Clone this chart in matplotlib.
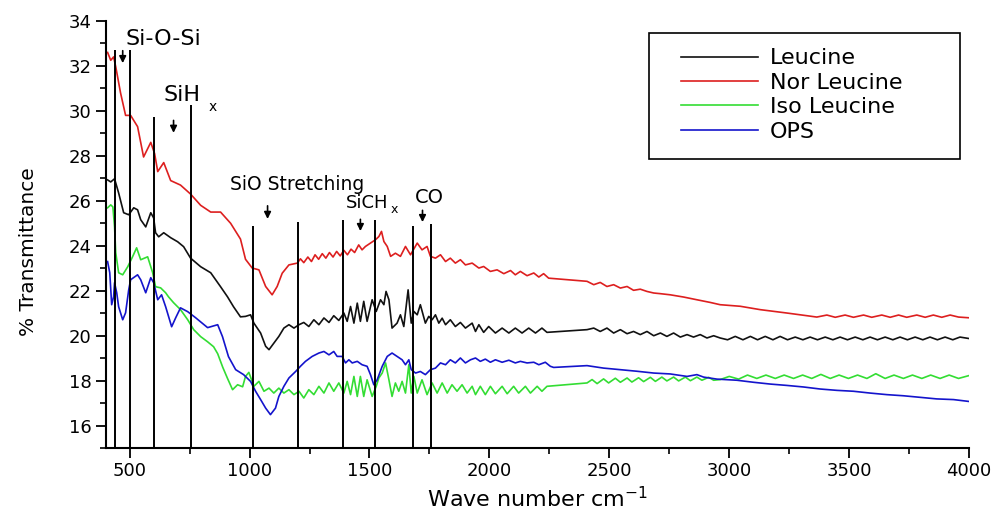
import matplotlib.pyplot as plt
from matplotlib.patches import Rectangle
from matplotlib.ticker import MultipleLocator
import numpy as np

# (wave number cm-1, % transmittance)
leucine = [
    (408, 26.93), (421, 26.84), (437, 26.98), (454, 26.35), (475, 25.47), (496, 25.38),
    (517, 25.69), (533, 25.6), (546, 25.16), (567, 24.84), (588, 25.47), (600, 25.24),
    (608, 24.58), (621, 24.4), (642, 24.58), (671, 24.36), (700, 24.18), (725, 23.96),
    (754, 23.45), (796, 23.07), (838, 22.8), (879, 22.18), (908, 21.73), (933, 21.29),
    (962, 20.84), (983, 20.86), (1004, 20.93), (1018, 20.56), (1046, 20.12), (1067, 19.53),
    (1081, 19.38), (1101, 19.67), (1122, 19.97), (1143, 20.34), (1164, 20.49), (1185, 20.34),
    (1206, 20.49), (1226, 20.59), (1247, 20.41), (1268, 20.71), (1289, 20.49), (1310, 20.79),
    (1331, 20.59), (1351, 20.89), (1372, 20.68), (1393, 21.01), (1407, 20.64), (1421, 21.3),
    (1435, 20.56), (1449, 21.45), (1462, 20.64), (1476, 21.53), (1490, 20.64), (1511, 21.6),
    (1528, 21.08), (1546, 21.6), (1560, 21.38), (1569, 21.97), (1581, 21.6), (1594, 20.34),
    (1615, 20.56), (1629, 20.93), (1643, 20.41), (1661, 22.04), (1674, 20.56), (1685, 21.08),
    (1699, 20.93), (1712, 21.38), (1733, 20.56), (1747, 20.86), (1761, 20.71), (1775, 20.93),
    (1789, 20.56), (1803, 20.78), (1817, 20.49), (1837, 20.71), (1858, 20.41), (1879, 20.59),
    (1900, 20.34), (1928, 20.56), (1942, 20.19), (1956, 20.49), (1976, 20.15), (1997, 20.41),
    (2025, 20.12), (2053, 20.34), (2081, 20.12), (2108, 20.34), (2136, 20.12), (2164, 20.34),
    (2192, 20.12), (2219, 20.34), (2240, 20.15), (2407, 20.27), (2435, 20.34), (2462, 20.19),
    (2490, 20.34), (2518, 20.12), (2546, 20.27), (2574, 20.09), (2601, 20.19), (2629, 20.05),
    (2657, 20.19), (2685, 20.0), (2713, 20.12), (2740, 19.97), (2768, 20.12), (2796, 19.94),
    (2824, 20.05), (2851, 19.94), (2879, 20.05), (2907, 19.9), (2935, 20.0), (2962, 19.9),
    (2993, 19.82), (3025, 19.97), (3057, 19.82), (3088, 19.97), (3118, 19.82), (3150, 19.97),
    (3182, 19.82), (3212, 19.97), (3243, 19.82), (3275, 19.94), (3307, 19.82), (3337, 19.94),
    (3368, 19.82), (3400, 19.94), (3432, 19.82), (3462, 19.94), (3493, 19.82), (3525, 19.94),
    (3557, 19.82), (3587, 19.94), (3618, 19.82), (3650, 19.94), (3682, 19.82), (3712, 19.94),
    (3743, 19.82), (3775, 19.94), (3807, 19.82), (3837, 19.94), (3868, 19.82), (3900, 19.94),
    (3932, 19.82), (3962, 19.94), (3997, 19.88),
]

nor_leucine = [
    (408, 32.6), (421, 32.25), (433, 32.4), (442, 31.96), (462, 30.8), (483, 29.8),
    (504, 29.8), (533, 29.3), (558, 27.95), (588, 28.6), (604, 28.1), (617, 27.3),
    (642, 27.7), (671, 26.9), (712, 26.7), (754, 26.3), (796, 25.8), (838, 25.5),
    (879, 25.5), (921, 25.0), (962, 24.3), (983, 23.4), (1011, 23.01), (1039, 22.93),
    (1067, 22.19), (1094, 21.82), (1115, 22.19), (1136, 22.78), (1164, 23.15), (1199, 23.23),
    (1212, 23.42), (1226, 23.25), (1243, 23.5), (1258, 23.3), (1273, 23.6), (1288, 23.4),
    (1303, 23.65), (1318, 23.45), (1333, 23.7), (1348, 23.5), (1363, 23.75), (1378, 23.55),
    (1393, 23.8), (1408, 23.6), (1423, 23.85), (1438, 23.7), (1455, 24.04), (1469, 23.82),
    (1483, 23.97), (1504, 24.12), (1525, 24.27), (1539, 24.41), (1550, 24.64), (1560, 24.19),
    (1574, 23.97), (1588, 23.53), (1608, 23.67), (1629, 23.53), (1650, 23.97), (1671, 23.6),
    (1699, 24.12), (1719, 23.82), (1740, 23.97), (1754, 23.53), (1775, 23.45), (1796, 23.6),
    (1817, 23.3), (1837, 23.45), (1858, 23.23), (1879, 23.38), (1900, 23.15), (1928, 23.23),
    (1956, 23.01), (1976, 23.08), (2004, 22.86), (2032, 22.93), (2060, 22.76), (2088, 22.9),
    (2108, 22.71), (2129, 22.86), (2157, 22.67), (2185, 22.79), (2206, 22.61), (2226, 22.76),
    (2247, 22.56), (2407, 22.42), (2435, 22.27), (2462, 22.37), (2490, 22.19), (2518, 22.27),
    (2546, 22.12), (2574, 22.19), (2601, 22.02), (2629, 22.07), (2657, 21.97), (2685, 21.9),
    (2713, 21.87), (2754, 21.82), (2810, 21.72), (2865, 21.6), (2921, 21.48), (2962, 21.38),
    (3046, 21.31), (3129, 21.16), (3240, 21.01), (3324, 20.89), (3365, 20.83), (3407, 20.92),
    (3442, 20.82), (3483, 20.92), (3518, 20.82), (3560, 20.92), (3594, 20.82), (3636, 20.92),
    (3671, 20.82), (3706, 20.92), (3740, 20.82), (3782, 20.92), (3817, 20.82), (3851, 20.92),
    (3886, 20.82), (3921, 20.92), (3956, 20.83), (3997, 20.8),
]

iso_leucine = [
    (408, 25.69), (421, 25.82), (430, 25.73), (437, 24.84), (442, 23.69), (454, 22.8),
    (471, 22.71), (492, 23.07), (512, 23.51), (529, 23.91), (546, 23.38), (575, 23.51),
    (596, 22.8), (608, 22.18), (629, 22.13), (650, 21.91), (662, 21.73), (683, 21.47),
    (712, 21.16), (742, 20.71), (767, 20.27), (796, 19.96), (825, 19.73), (850, 19.51),
    (867, 19.2), (888, 18.6), (908, 18.1), (929, 17.6), (950, 17.82), (971, 17.73),
    (983, 18.19), (997, 18.37), (1018, 17.75), (1039, 17.97), (1060, 17.53), (1081, 17.67),
    (1101, 17.45), (1122, 17.67), (1143, 17.45), (1164, 17.6), (1185, 17.38), (1206, 17.53),
    (1226, 17.23), (1247, 17.6), (1268, 17.38), (1289, 17.75), (1310, 17.45), (1331, 17.9),
    (1351, 17.53), (1372, 17.9), (1393, 17.45), (1407, 17.97), (1421, 17.38), (1435, 18.19),
    (1449, 17.3), (1462, 18.19), (1476, 17.3), (1490, 18.04), (1511, 17.3), (1528, 17.75),
    (1539, 18.12), (1553, 18.34), (1567, 18.79), (1581, 18.04), (1594, 17.3), (1608, 17.9),
    (1622, 17.53), (1636, 17.97), (1650, 17.45), (1664, 18.71), (1674, 17.45), (1685, 18.19),
    (1699, 17.45), (1719, 18.04), (1740, 17.38), (1761, 17.9), (1782, 17.45), (1803, 17.9),
    (1824, 17.45), (1844, 17.82), (1865, 17.53), (1886, 17.82), (1907, 17.45), (1928, 17.75),
    (1942, 17.38), (1962, 17.75), (1983, 17.38), (2004, 17.75), (2025, 17.42), (2053, 17.75),
    (2074, 17.42), (2101, 17.75), (2122, 17.45), (2150, 17.75), (2171, 17.45), (2199, 17.75),
    (2219, 17.53), (2240, 17.75), (2407, 17.9), (2428, 18.05), (2449, 17.87), (2476, 18.08),
    (2497, 17.9), (2525, 18.11), (2546, 17.93), (2574, 18.12), (2594, 17.94), (2622, 18.13),
    (2643, 17.96), (2671, 18.15), (2692, 17.97), (2719, 18.16), (2740, 17.99), (2768, 18.16),
    (2789, 17.99), (2817, 18.16), (2838, 18.0), (2865, 18.16), (2886, 18.02), (2914, 18.15),
    (2935, 18.02), (2962, 18.05), (3000, 18.19), (3039, 18.07), (3076, 18.25), (3115, 18.1),
    (3153, 18.25), (3192, 18.1), (3229, 18.25), (3268, 18.1), (3306, 18.25), (3344, 18.1),
    (3382, 18.28), (3421, 18.1), (3458, 18.25), (3497, 18.1), (3535, 18.25), (3574, 18.1),
    (3611, 18.31), (3650, 18.1), (3687, 18.25), (3726, 18.1), (3764, 18.25), (3803, 18.1),
    (3840, 18.25), (3879, 18.1), (3917, 18.25), (3956, 18.1), (3997, 18.22),
]

ops = [
    (408, 23.3), (417, 22.8), (425, 21.38), (433, 21.73), (437, 22.36), (446, 21.91),
    (454, 21.29), (471, 20.71), (483, 21.02), (496, 22.04), (504, 22.49), (533, 22.71),
    (546, 22.49), (567, 21.91), (588, 22.58), (600, 22.36), (617, 21.6), (633, 21.82),
    (650, 21.29), (675, 20.4), (692, 20.8), (712, 21.24), (742, 21.07), (775, 20.8),
    (825, 20.36), (867, 20.49), (887, 19.96), (912, 19.07), (942, 18.49), (975, 18.27),
    (1004, 17.97), (1025, 17.53), (1046, 17.16), (1067, 16.78), (1087, 16.49), (1108, 16.78),
    (1122, 17.3), (1143, 17.75), (1164, 18.12), (1192, 18.41), (1212, 18.64), (1233, 18.86),
    (1261, 19.08), (1289, 19.23), (1310, 19.3), (1331, 19.15), (1351, 19.3), (1365, 19.08),
    (1386, 19.08), (1400, 18.79), (1414, 18.93), (1428, 18.79), (1449, 18.86), (1469, 18.71),
    (1490, 18.64), (1504, 18.27), (1518, 17.82), (1532, 18.04), (1553, 18.64), (1574, 19.08),
    (1594, 19.23), (1615, 19.08), (1636, 18.93), (1650, 18.71), (1664, 18.93), (1674, 18.49),
    (1692, 18.34), (1712, 18.41), (1733, 18.27), (1754, 18.49), (1775, 18.56), (1796, 18.79),
    (1817, 18.71), (1837, 18.93), (1858, 18.79), (1879, 19.01), (1900, 18.79), (1921, 18.93),
    (1942, 19.01), (1962, 18.86), (1983, 18.96), (2004, 18.82), (2025, 18.93), (2053, 18.82),
    (2081, 18.91), (2108, 18.79), (2129, 18.86), (2157, 18.79), (2185, 18.82), (2206, 18.71),
    (2233, 18.82), (2254, 18.64), (2268, 18.59), (2407, 18.67), (2476, 18.56), (2546, 18.49),
    (2615, 18.42), (2685, 18.34), (2754, 18.3), (2824, 18.19), (2865, 18.27), (2893, 18.16),
    (2949, 18.07), (3032, 18.02), (3101, 17.93), (3171, 17.85), (3240, 17.79), (3310, 17.72),
    (3379, 17.63), (3449, 17.57), (3518, 17.53), (3587, 17.45), (3657, 17.38), (3726, 17.33),
    (3796, 17.26), (3865, 17.19), (3935, 17.16), (3997, 17.08),
]

series = [leucine, nor_leucine, iso_leucine, ops]
names = ["Leucine", "Nor Leucine", "Iso Leucine", "OPS"]
colors = ["#111111", "#dd1f1f", "#33dd33", "#1414cc"]

# band marker lines: position and top
band_wn = [440, 502, 603, 754, 1014, 1201, 1390, 1525, 1680, 1757]
band_top = [32.72, 32.7, 29.75, 30.27, 24.86, 25.08, 25.15, 25.15, 24.89, 24.98]

# arrows: x, from y, to y
arrows = [(471, 32.8, 32.0), (683, 29.7, 28.9), (1075, 25.9, 25.07),
          (1462, 25.3, 24.53), (1721, 25.7, 24.93)]

fig = plt.figure(figsize=(9.97, 5.11), dpi=100)
ax = fig.add_axes([0.106, 0.123, 0.866, 0.836])

for pts, name, c in zip(series, names, colors):
    wn, t = np.array(pts).T
    ax.plot(wn, t, color=c, lw=1.2, label=name)

ax.vlines(band_wn, 15, band_top, color='black', lw=1.4)

for x, y0, y1 in arrows:
    ax.annotate('', xy=(x, y1), xytext=(x, y0),
                arrowprops=dict(arrowstyle='-|>', color='black', lw=1.2, mutation_scale=10))

ax.text(640, 33.2, 'Si-O-Si', fontsize=16, ha='center', va='center')
ax.text(796, 30.7, 'SiH', fontsize=16, ha='right', va='center')
ax.text(846, 30.18, 'x', fontsize=10, ha='center', va='center')
ax.text(1200, 26.71, 'SiO Stretching', fontsize=13.5, ha='center', va='center')
ax.text(1579, 25.91, 'SiCH', fontsize=13, ha='right', va='center')
ax.text(1604, 25.6, 'x', fontsize=9, ha='center', va='center')
ax.text(1750, 26.13, 'CO', fontsize=14, ha='center', va='center')

ax.set_xlim(400, 4000)
ax.set_ylim(15, 34)
ax.xaxis.set_major_locator(MultipleLocator(500))
ax.xaxis.set_minor_locator(MultipleLocator(250))
ax.yaxis.set_major_locator(MultipleLocator(2))
ax.yaxis.set_minor_locator(MultipleLocator(1))
ax.set_xticks(np.arange(500, 4001, 500))

ax.spines['top'].set_visible(False)
ax.spines['right'].set_visible(False)
ax.spines['left'].set_linewidth(1.5)
ax.spines['bottom'].set_linewidth(1.5)
ax.tick_params(which='major', direction='out', length=7, width=1.3, labelsize=13, pad=3)
ax.tick_params(which='minor', direction='out', length=4, width=1.2)

ax.set_xlabel('Wave number cm$^{-1}$', fontsize=16)
ax.set_ylabel('% Transmittance', fontsize=14.5)
ax.yaxis.set_label_coords(-0.078, 0.46)

ax.add_patch(Rectangle((0.629, 0.677), 0.361, 0.295, transform=ax.transAxes,
                       fill=False, edgecolor='black', lw=1.2, clip_on=False))
ax.legend(loc='upper left', bbox_to_anchor=(0.666, 0.936), frameon=False,
          fontsize=16, handlelength=3.5, handletextpad=0.5, labelspacing=0.2,
          borderpad=0, borderaxespad=0)

fig.savefig('out.png', dpi=100)
